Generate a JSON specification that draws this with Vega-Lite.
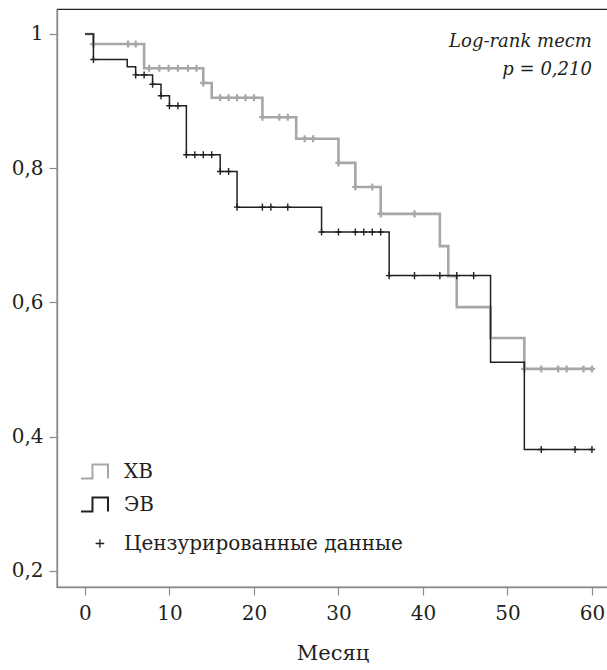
{
  "$schema": "https://vega.github.io/schema/vega-lite/v6.json",
  "width": 551,
  "height": 578,
  "autosize": "none",
  "padding": {"left": 57, "top": 9, "right": 0, "bottom": 83},
  "background": "white",
  "config": {
    "view": {"stroke": "#231f20", "strokeWidth": 1.2},
    "font": "DejaVu Serif",
    "axis": {
      "grid": false,
      "domainColor": "#8a8a8a",
      "domainWidth": 1.4,
      "tickColor": "#8a8a8a",
      "tickWidth": 1.2,
      "tickSize": 8,
      "labelFont": "DejaVu Serif",
      "labelFontSize": 20,
      "labelColor": "#231f20",
      "titleFont": "DejaVu Serif",
      "titleFontSize": 21,
      "titleFontWeight": "normal",
      "titleColor": "#231f20"
    },
    "legend": {
      "labelFont": "DejaVu Serif",
      "labelFontSize": 20,
      "labelColor": "#231f20",
      "labelLimit": 0
    }
  },
  "datasets": {
    "curves": [
      {"group": "ХВ", "month": 0, "surv": 1},
      {"group": "ХВ", "month": 1, "surv": 0.985},
      {"group": "ХВ", "month": 7, "surv": 0.949},
      {"group": "ХВ", "month": 14, "surv": 0.927},
      {"group": "ХВ", "month": 15, "surv": 0.905},
      {"group": "ХВ", "month": 21, "surv": 0.876},
      {"group": "ХВ", "month": 25, "surv": 0.844},
      {"group": "ХВ", "month": 30, "surv": 0.808},
      {"group": "ХВ", "month": 32, "surv": 0.772},
      {"group": "ХВ", "month": 35, "surv": 0.732},
      {"group": "ХВ", "month": 42, "surv": 0.684},
      {"group": "ХВ", "month": 43, "surv": 0.639},
      {"group": "ХВ", "month": 44, "surv": 0.593},
      {"group": "ХВ", "month": 48, "surv": 0.547},
      {"group": "ХВ", "month": 52, "surv": 0.501},
      {"group": "ХВ", "month": 60, "surv": 0.501},
      {"group": "ЭВ", "month": 0, "surv": 1},
      {"group": "ЭВ", "month": 1, "surv": 0.962},
      {"group": "ЭВ", "month": 5, "surv": 0.951},
      {"group": "ЭВ", "month": 6, "surv": 0.939},
      {"group": "ЭВ", "month": 8, "surv": 0.925},
      {"group": "ЭВ", "month": 9, "surv": 0.908},
      {"group": "ЭВ", "month": 10, "surv": 0.893},
      {"group": "ЭВ", "month": 12, "surv": 0.82},
      {"group": "ЭВ", "month": 16, "surv": 0.795},
      {"group": "ЭВ", "month": 18, "surv": 0.742},
      {"group": "ЭВ", "month": 28, "surv": 0.705},
      {"group": "ЭВ", "month": 36, "surv": 0.64},
      {"group": "ЭВ", "month": 48, "surv": 0.511},
      {"group": "ЭВ", "month": 52, "surv": 0.381},
      {"group": "ЭВ", "month": 60, "surv": 0.381}
    ],
    "censored": [
      {"group": "ХВ", "month": 1, "surv": 0.985},
      {"group": "ХВ", "month": 5.1, "surv": 0.985},
      {"group": "ХВ", "month": 6, "surv": 0.985},
      {"group": "ХВ", "month": 7.6, "surv": 0.949},
      {"group": "ХВ", "month": 8.8, "surv": 0.949},
      {"group": "ХВ", "month": 9.9, "surv": 0.949},
      {"group": "ХВ", "month": 11, "surv": 0.949},
      {"group": "ХВ", "month": 12.2, "surv": 0.949},
      {"group": "ХВ", "month": 13.2, "surv": 0.949},
      {"group": "ХВ", "month": 14, "surv": 0.927},
      {"group": "ХВ", "month": 16, "surv": 0.905},
      {"group": "ХВ", "month": 17, "surv": 0.905},
      {"group": "ХВ", "month": 18, "surv": 0.905},
      {"group": "ХВ", "month": 19, "surv": 0.905},
      {"group": "ХВ", "month": 20, "surv": 0.905},
      {"group": "ХВ", "month": 21, "surv": 0.876},
      {"group": "ХВ", "month": 23, "surv": 0.876},
      {"group": "ХВ", "month": 24, "surv": 0.876},
      {"group": "ХВ", "month": 26, "surv": 0.844},
      {"group": "ХВ", "month": 27, "surv": 0.844},
      {"group": "ХВ", "month": 30, "surv": 0.808},
      {"group": "ХВ", "month": 32, "surv": 0.772},
      {"group": "ХВ", "month": 34, "surv": 0.772},
      {"group": "ХВ", "month": 35, "surv": 0.732},
      {"group": "ХВ", "month": 39, "surv": 0.732},
      {"group": "ХВ", "month": 52, "surv": 0.501},
      {"group": "ХВ", "month": 54, "surv": 0.501},
      {"group": "ХВ", "month": 56, "surv": 0.501},
      {"group": "ХВ", "month": 57, "surv": 0.501},
      {"group": "ХВ", "month": 59, "surv": 0.501},
      {"group": "ХВ", "month": 60, "surv": 0.501},
      {"group": "ЭВ", "month": 1, "surv": 0.962},
      {"group": "ЭВ", "month": 6, "surv": 0.939},
      {"group": "ЭВ", "month": 7, "surv": 0.939},
      {"group": "ЭВ", "month": 8, "surv": 0.925},
      {"group": "ЭВ", "month": 9, "surv": 0.908},
      {"group": "ЭВ", "month": 10, "surv": 0.893},
      {"group": "ЭВ", "month": 11, "surv": 0.893},
      {"group": "ЭВ", "month": 12, "surv": 0.82},
      {"group": "ЭВ", "month": 13, "surv": 0.82},
      {"group": "ЭВ", "month": 14, "surv": 0.82},
      {"group": "ЭВ", "month": 15, "surv": 0.82},
      {"group": "ЭВ", "month": 16, "surv": 0.795},
      {"group": "ЭВ", "month": 17, "surv": 0.795},
      {"group": "ЭВ", "month": 18, "surv": 0.742},
      {"group": "ЭВ", "month": 21, "surv": 0.742},
      {"group": "ЭВ", "month": 22, "surv": 0.742},
      {"group": "ЭВ", "month": 24, "surv": 0.742},
      {"group": "ЭВ", "month": 28, "surv": 0.705},
      {"group": "ЭВ", "month": 30, "surv": 0.705},
      {"group": "ЭВ", "month": 32, "surv": 0.705},
      {"group": "ЭВ", "month": 33, "surv": 0.705},
      {"group": "ЭВ", "month": 34, "surv": 0.705},
      {"group": "ЭВ", "month": 35, "surv": 0.705},
      {"group": "ЭВ", "month": 36, "surv": 0.64},
      {"group": "ЭВ", "month": 39, "surv": 0.64},
      {"group": "ЭВ", "month": 42, "surv": 0.64},
      {"group": "ЭВ", "month": 44, "surv": 0.64},
      {"group": "ЭВ", "month": 46, "surv": 0.64},
      {"group": "ЭВ", "month": 54, "surv": 0.381},
      {"group": "ЭВ", "month": 58, "surv": 0.381},
      {"group": "ЭВ", "month": 60, "surv": 0.381}
    ],
    "notes": [
      {"label": "Log-rank тест"},
      {"label": "p = 0,210"}
    ]
  },
  "layer": [
    {
      "data": {"name": "curves"},
      "transform": [{"filter": "datum.group === 'ХВ'"}],
      "mark": {"type": "line", "interpolate": "step-after", "strokeWidth": 2.6},
      "encoding": {
        "x": {
          "field": "month",
          "type": "quantitative",
          "scale": {"domain": [-3.31, 61.9], "nice": false, "zero": false},
          "axis": {"values": [0, 10, 20, 30, 40, 50, 60], "title": "Месяц", "labelPadding": 8, "titlePadding": 19}
        },
        "y": {
          "field": "surv",
          "type": "quantitative",
          "scale": {"domain": [0.1761, 1.0372], "nice": false, "zero": false},
          "axis": {"values": [0.2, 0.4, 0.6, 0.8, 1], "format": ".1~f", "labelExpr": "replace(datum.label, '.', ',')", "title": null, "labelPadding": 6}
        },
        "stroke": {
          "field": "group",
          "type": "nominal",
          "scale": {"domain": ["ХВ", "ЭВ"], "range": ["#a7a7a7", "#231f20"]},
          "legend": {
            "orient": "none",
            "legendX": 23,
            "legendY": 448,
            "title": null,
            "symbolType": "M-1,0.52L-0.15,0.52L-0.15,-0.52L1,-0.52L1,0.52",
            "symbolSize": 729,
            "symbolStrokeWidth": 2,
            "labelOffset": 15,
            "rowPadding": 7,
            "encode": {"symbols": {"update": {"fill": {"value": "transparent"}}}}
          }
        }
      }
    },
    {
      "data": {"name": "censored"},
      "transform": [{"filter": "datum.group === 'ХВ'"}],
      "mark": {"type": "point", "shape": "M0,-1L0,1M-0.9,0L0.9,0", "filled": false, "size": 50, "strokeWidth": 2.2, "opacity": 1},
      "encoding": {
        "x": {"field": "month", "type": "quantitative"},
        "y": {"field": "surv", "type": "quantitative"},
        "color": {
          "field": "group",
          "type": "nominal",
          "scale": {"domain": ["ХВ", "ЭВ"], "range": ["#a7a7a7", "#231f20"]},
          "legend": null
        }
      }
    },
    {
      "data": {"name": "curves"},
      "transform": [{"filter": "datum.group === 'ЭВ'"}],
      "mark": {"type": "line", "interpolate": "step-after", "strokeWidth": 1.5},
      "encoding": {
        "x": {"field": "month", "type": "quantitative"},
        "y": {"field": "surv", "type": "quantitative"},
        "stroke": {"field": "group", "type": "nominal"}
      }
    },
    {
      "data": {"name": "censored"},
      "transform": [{"filter": "datum.group === 'ЭВ'"}],
      "mark": {"type": "point", "shape": "M0,-1L0,1M-0.9,0L0.9,0", "filled": false, "size": 50, "strokeWidth": 1.4, "opacity": 1},
      "encoding": {
        "x": {"field": "month", "type": "quantitative"},
        "y": {"field": "surv", "type": "quantitative"},
        "color": {"field": "group", "type": "nominal"}
      }
    },
    {
      "data": {"name": "censored"},
      "transform": [{"filter": "datum.month === 60 && datum.group === 'ЭВ'"}],
      "mark": {"type": "point", "filled": false, "size": 729, "opacity": 0},
      "encoding": {
        "x": {"field": "month", "type": "quantitative"},
        "y": {"field": "surv", "type": "quantitative"},
        "shape": {
          "datum": "Цензурированные данные",
          "type": "nominal",
          "scale": {"range": ["M0.4,-0.32L0.4,0.32M0.08,0L0.72,0"]},
          "legend": {
            "orient": "none",
            "legendX": 23,
            "legendY": 520,
            "title": null,
            "symbolSize": 729,
            "symbolOpacity": 1,
            "symbolStrokeColor": "#231f20",
            "symbolFillColor": "transparent",
            "symbolStrokeWidth": 1.3,
            "labelOffset": 15
          }
        }
      }
    },
    {
      "data": {"name": "notes"},
      "transform": [{"filter": "datum.label === 'Log-rank тест'"}],
      "mark": {"type": "text", "font": "DejaVu Serif", "fontStyle": "italic", "fontSize": 18, "align": "right", "baseline": "middle", "color": "#231f20"},
      "encoding": {"x": {"datum": 60}, "y": {"datum": 0.988}, "text": {"field": "label", "type": "nominal"}}
    },
    {
      "data": {"name": "notes"},
      "transform": [{"filter": "datum.label === 'p = 0,210'"}],
      "mark": {"type": "text", "font": "DejaVu Serif", "fontStyle": "italic", "fontSize": 18, "align": "right", "baseline": "middle", "color": "#231f20"},
      "encoding": {"x": {"datum": 60}, "y": {"datum": 0.946}, "text": {"field": "label", "type": "nominal"}}
    }
  ]
}
